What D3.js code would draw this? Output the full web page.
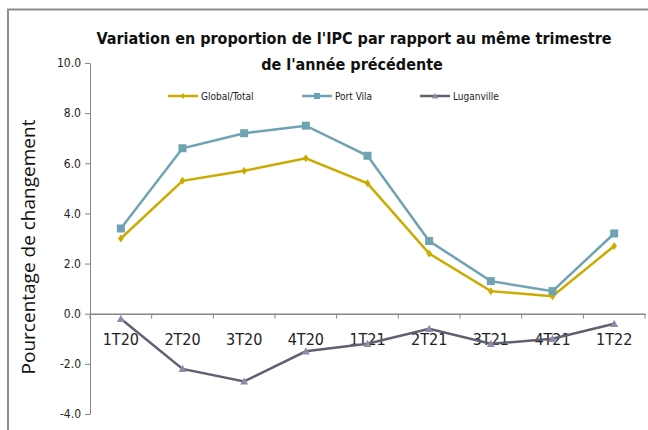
<!DOCTYPE html>
<html>
<head>
<meta charset="utf-8">
<script src="https://d3js.org/d3.v7.min.js"></script>
<style>
body { margin: 0; background: #fff; }
text { font-family: "Liberation Sans Narrow", "DejaVu Sans Condensed", "Open Sans", sans-serif; }
</style>
</head>
<body>
<svg id="chart" width="648" height="430"></svg>
<script>
var quarters = ["1T20", "2T20", "3T20", "4T20", "1T21", "2T21", "3T21", "4T21", "1T22"];
var globalTotal = [3.0, 5.3, 5.7, 6.2, 5.2, 2.4, 0.9, 0.7, 2.7];
var portVila = [3.4, 6.6, 7.2, 7.5, 6.3, 2.9, 1.3, 0.9, 3.2];
var luganville = [-0.2, -2.2, -2.7, -1.5, -1.2, -0.6, -1.2, -1.0, -0.4];
var yTicks = [-4, -2, 0, 2, 4, 6, 8, 10];

var series = [
  {name: "Global/Total", values: globalTotal, color: "#cbab00", marker: "diamond"},
  {name: "Port Vila", values: portVila, color: "#6fa3b4", marker: "square"},
  {name: "Luganville", values: luganville, color: "#5f6170", marker: "triangle", fill: "#8d8ba6"}
];

var svg = d3.select("#chart");
var plotL = 90, plotR = 645, plotT = 63, plotB = 414;

// frame
svg.append("path").attr("d", "M8,440 L8,9.5 L660,9.5")
  .attr("fill", "none").attr("stroke", "#8c8c8c").attr("stroke-width", 2);

var x = d3.scaleBand().domain(quarters).range([plotL, plotR]);
var y = d3.scaleLinear().domain([-4, 10]).range([plotB, plotT]);

// y axis, plain hyphen for negatives like the source
var ya = svg.append("g").attr("transform", "translate(" + plotL + ",0)")
  .call(d3.axisLeft(y).tickValues(yTicks)
    .tickFormat(function(d) { return d.toFixed(1); })
    .tickSize(5).tickSizeOuter(0));
ya.attr("font-family", null);
ya.select(".domain").attr("stroke", "#868686");
ya.selectAll(".tick line").attr("stroke", "#868686");
ya.selectAll("text").attr("font-size", 12).attr("fill", "#222").attr("x", -9);

// x axis at zero
var xa = svg.append("g").attr("transform", "translate(0," + y(0) + ")")
  .call(d3.axisBottom(x).tickSize(0).tickSizeOuter(0));
xa.attr("font-family", null);
xa.select(".domain").attr("stroke", "#868686").attr("stroke-width", 1.5);
xa.selectAll("text").attr("font-size", 16).attr("fill", "#222").attr("y", 20);
var bounds = quarters.map(function(q) { return x(q); }).concat([plotR]);
xa.selectAll(".bound").data(bounds).enter().append("line")
  .attr("x1", function(d) { return d; }).attr("x2", function(d) { return d; })
  .attr("y1", 0).attr("y2", 5).attr("stroke", "#868686");

var line = d3.line()
  .x(function(d, i) { return x(quarters[i]) + x.bandwidth() / 2; })
  .y(function(d) { return y(d); });

function marker(g, type, color, fill, cx, cy, s) {
  if (type === "square") {
    g.append("rect").attr("x", cx - s).attr("y", cy - s).attr("width", 2 * s).attr("height", 2 * s).attr("fill", color);
  } else if (type === "diamond") {
    g.append("path").attr("d", "M" + cx + "," + (cy - s) + "L" + (cx + s * 0.7) + "," + cy + "L" + cx + "," + (cy + s) + "L" + (cx - s * 0.7) + "," + cy + "Z").attr("fill", color);
  } else {
    g.append("path").attr("d", "M" + cx + "," + (cy - s) + "L" + (cx + s) + "," + (cy + s * 0.8) + "L" + (cx - s) + "," + (cy + s * 0.8) + "Z").attr("fill", fill || color);
  }
}

series.forEach(function(s) {
  svg.append("path").datum(s.values).attr("d", line)
    .attr("fill", "none").attr("stroke", s.color).attr("stroke-width", 2.5);
  var g = svg.append("g");
  s.values.forEach(function(v, i) {
    marker(g, s.marker, s.color, s.fill, x(quarters[i]) + x.bandwidth() / 2, y(v), 4);
  });
});

// legend
var legX = [168, 302, 420];
series.forEach(function(s, i) {
  var g = svg.append("g");
  g.append("line").attr("x1", legX[i]).attr("x2", legX[i] + 30).attr("y1", 96).attr("y2", 96)
    .attr("stroke", s.color).attr("stroke-width", 2.5);
  marker(g, s.marker, s.color, s.fill, legX[i] + 15, 96, 3);
  g.append("text").attr("x", legX[i] + 33).attr("y", 99.5).attr("font-size", 10).attr("fill", "#222").text(s.name);
});

// title
svg.append("text").attr("x", 354).attr("y", 44).attr("text-anchor", "middle")
  .attr("font-size", 16).attr("font-weight", "bold").attr("fill", "#111")
  .text("Variation en proportion de l'IPC par rapport au même trimestre");
svg.append("text").attr("x", 352).attr("y", 70).attr("text-anchor", "middle")
  .attr("font-size", 16).attr("font-weight", "bold").attr("fill", "#111")
  .text("de l'année précédente");

// y label
svg.append("text").attr("transform", "translate(35,247) rotate(-90)").attr("text-anchor", "middle")
  .style("font-family", "Open Sans, sans-serif").attr("font-size", 19).attr("fill", "#111")
  .text("Pourcentage de changement");
</script>
</body>
</html>
